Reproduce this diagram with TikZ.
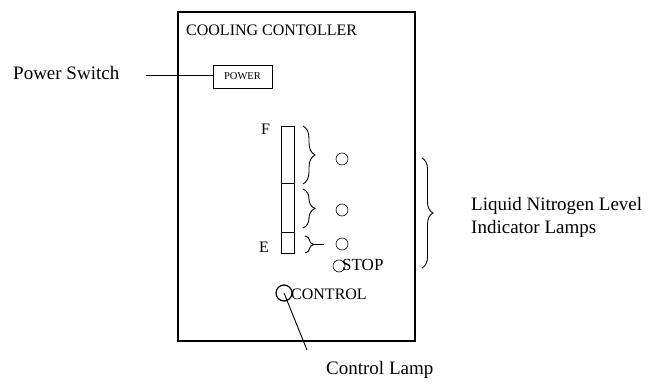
\documentclass[tikz,border=0pt]{standalone}
\usepackage{fontspec}
\setmainfont{Liberation Serif}
\usetikzlibrary{decorations.pathreplacing}
\begin{document}
\begin{tikzpicture}[x=1pt,y=-1pt,
  frame/.style={draw,line width=1.1pt},
  lbl/.style={inner sep=0pt,anchor=west,font=\fontsize{19}{23}\selectfont},
  inlbl/.style={inner sep=0pt,anchor=west,font=\fontsize{16}{19}\selectfont},
  lamp/.style={draw,circle,minimum size=12pt,inner sep=0pt,line width=0.6pt},
  brc/.style={decorate,decoration={brace,amplitude=#1},line width=0.9pt},
  conn/.style={draw,line width=0.9pt}]
\useasboundingbox (0,0) rectangle (656,385);
% main box
\node[frame,minimum width=237pt,minimum height=329pt,inner sep=0pt] (box) at (296.5,176.5) {};
\node[inlbl,font=\fontsize{16}{19}\selectfont] (title) at (186,30) {COOLING CONTOLLER};
% power
\node[draw,line width=0.9pt,minimum width=59pt,minimum height=23pt,inner sep=0pt,font=\fontsize{10.5}{12}\selectfont] (power) at (242.5,76.5) {POWER};
\node[lbl] (pswitch) at (13,73) {Power Switch};
\coordinate (pend) at (146,75);
\draw[conn] (pend) -- (power.west |- pend);
% level bar
\node[draw,line width=0.9pt,minimum width=13pt,minimum height=57pt,inner sep=0pt] (seg1) at (287.5,154.5) {};
\node[draw,line width=0.9pt,minimum width=13pt,minimum height=49pt,inner sep=0pt] (seg2) at (287.5,207.5) {};
\node[draw,line width=0.9pt,minimum width=13pt,minimum height=21pt,inner sep=0pt] (seg3) at (287.5,242.5) {};
\node[inlbl] (F) at (261,129) {F};
\node[inlbl] (E) at (259,247) {E};
% braces
\coordinate (b1t) at (303,126); \coordinate (b1b) at (303,184);
\coordinate (b2t) at (303,189); \coordinate (b2b) at (303,228);
\coordinate (b3t) at (305,236); \coordinate (b3b) at (305,253);
\draw[brc=12pt] (b1t) -- (b1b);
\draw[brc=12pt] (b2t) -- (b2b);
\draw[brc=9pt] (b3t) -- (b3b);
\coordinate (b3tip) at (315,244.5); \coordinate (b3end) at (324,244.5);
\draw[conn] (b3tip) -- (b3end);
% lamps
\node[lamp] (l1) at (342,159) {};
\node[lamp] (l2) at (342,210) {};
\node[lamp] (l3) at (342,244) {};
\node[lamp] (stop) at (339,266) {};
\node[inlbl,font=\fontsize{17}{20}\selectfont] (stoplbl) at (342,265) {STOP};
\node[draw,circle,minimum size=16pt,inner sep=0pt,line width=1.2pt] (ctrl) at (284,293) {};
\node[inlbl] (ctrllbl) at (291,294) {CONTROL};
\coordinate (cend) at (307,350);
\draw[conn] (ctrl.center) -- (cend);
\node[lbl] (clamp) at (326,370) {Control Lamp};
% big brace
\coordinate (bbt) at (422,158); \coordinate (bbb) at (422,268);
\draw[brc=11pt] (bbt) -- (bbb);
\node[lbl,align=left] (lnl) at (471,217) {Liquid Nitrogen Level\\Indicator Lamps};
\end{tikzpicture}
\end{document}
